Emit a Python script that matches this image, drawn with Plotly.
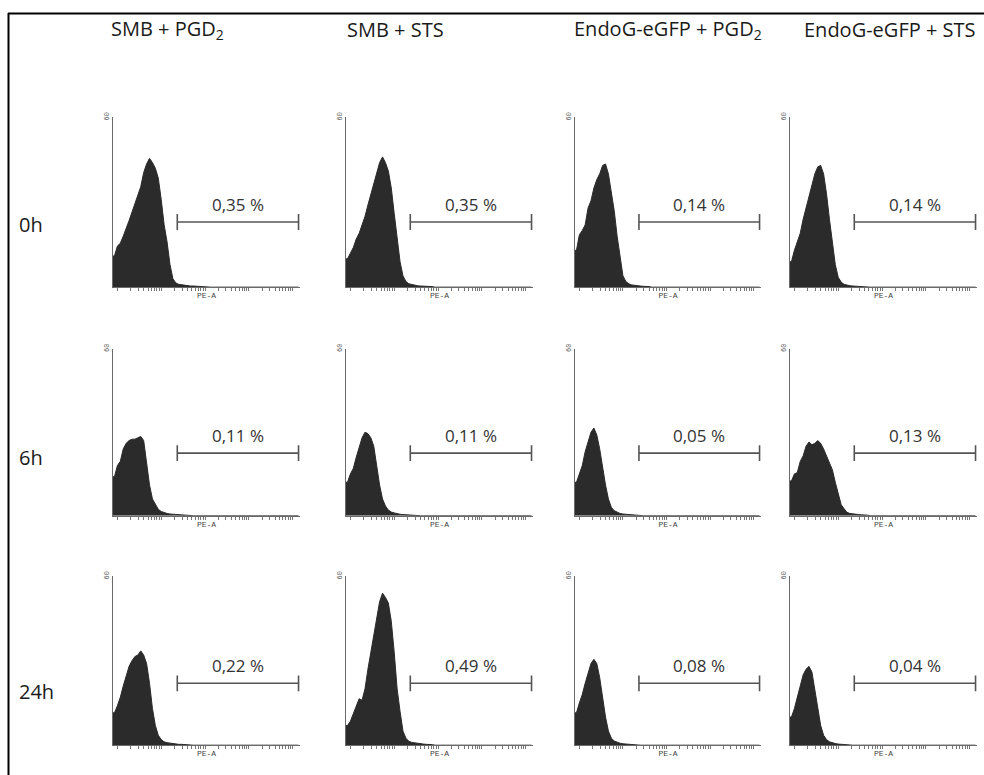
import math
import plotly.graph_objects as go

# ---------------- data ----------------
conditions = ["SMB + PGD<sub>2</sub>", "SMB + STS", "EndoG-eGFP + PGD<sub>2</sub>", "EndoG-eGFP + STS"]
timepoints = ["0h", "6h", "24h"]
percent_labels = [
    ["0,35 %", "0,35 %", "0,14 %", "0,14 %"],
    ["0,11 %", "0,11 %", "0,05 %", "0,13 %"],
    ["0,22 %", "0,49 %", "0,08 %", "0,04 %"],
]
channels = list(range(64))          # PE-A channel (bin index)
gate_range = [22, 63.5]             # PE-A marker gate (channels)
y_max = 60

# counts per channel (remaining channels are 0)
h_0h_smb_pgd2 = [11, 14.5, 15.5, 18, 20.5, 23.5, 26.5, 29.5, 33, 35.5, 40.5, 43.5, 45.5, 44, 42, 38.5,
                 31, 22, 16, 8, 3, 1.5, 1, 0.8, 0.6, 0.5, 0.4, 0.4, 0.3, 0.3, 0.2, 0.2]
h_0h_smb_sts = [10, 12, 14, 17, 19, 22, 25, 29, 33, 37, 41, 44, 46, 44, 41, 35,
                26, 17, 9, 4, 2, 1.2, 0.9, 0.7, 0.5, 0.4, 0.4, 0.3, 0.3, 0.2]
h_0h_endo_pgd2 = [13, 18.5, 20, 22, 28, 30.5, 35, 38, 40, 43, 43.5, 40, 34, 27, 18, 10,
                  4, 2, 1.2, 0.8, 0.6, 0.5, 0.4, 0.3, 0.3, 0.2]
h_0h_endo_sts = [9, 13, 16, 19, 24, 28, 33, 37, 40, 42.5, 43, 40, 33, 24, 15, 8,
                 3.5, 1.8, 1, 0.7, 0.5, 0.4, 0.3, 0.3, 0.2]
h_6h_smb_pgd2 = [14, 18, 19.5, 24, 26, 27, 27.5, 27.5, 28, 28.5, 27, 18, 11, 6, 4, 2.3,
                 1.5, 1, 0.8, 0.6, 0.5, 0.4, 0.4, 0.3, 0.3, 0.2]
h_6h_smb_sts = [12, 15, 17, 21, 25, 28, 30, 29.5, 28, 25, 18, 11, 6, 3.5, 2, 1.3,
                1, 0.7, 0.5, 0.4, 0.3, 0.3, 0.2]
h_6h_endo_pgd2 = [12, 15, 18, 23, 27, 30, 31.5, 29, 24, 17, 11, 6, 3, 1.8, 1.2, 0.8,
                  0.6, 0.5, 0.4, 0.3, 0.2]
h_6h_endo_sts = [12.5, 15, 15.5, 19.5, 21.5, 25, 26.5, 25.5, 26, 27, 26, 24, 21.5, 19.5, 16.5, 12,
                 7.5, 4, 2.5, 1.2, 0.8, 0.6, 0.5, 0.4, 0.3, 0.3, 0.2]
h_24h_smb_pgd2 = [11.5, 14, 17, 21, 25, 28, 30, 31.5, 32, 33.5, 32, 29, 22, 13, 7, 3.5,
                  2, 1.2, 0.9, 0.7, 0.5, 0.4, 0.3, 0.3, 0.2]
h_24h_smb_sts = [7, 8.5, 11, 13.5, 16.5, 16, 20, 27, 33, 40, 46, 51, 54, 52.5, 50.5, 44,
                 33, 20, 12, 5, 2.5, 1.4, 1, 0.8, 0.6, 0.5, 0.4, 0.3, 0.3, 0.2]
h_24h_endo_pgd2 = [11.5, 15, 18, 22, 26, 29, 30.5, 29, 24, 17, 10, 5, 2.5, 1.5, 1, 0.7,
                   0.5, 0.4, 0.3, 0.2]
h_24h_endo_sts = [10, 13, 17, 22, 25, 27, 28, 26, 20, 13, 7, 3.5, 2, 1.2, 0.8, 0.6,
                  0.4, 0.3, 0.2]

histograms = [
    [h_0h_smb_pgd2, h_0h_smb_sts, h_0h_endo_pgd2, h_0h_endo_sts],
    [h_6h_smb_pgd2, h_6h_smb_sts, h_6h_endo_pgd2, h_6h_endo_sts],
    [h_24h_smb_pgd2, h_24h_smb_sts, h_24h_endo_pgd2, h_24h_endo_sts],
]

# ---------------- layout ----------------
W, H = 984, 775
col_px = [(113, 300), (346, 533), (575, 761), (790, 977)]
row_px = [(113, 284), (346, 514), (575, 745)]
gate_y = [23, 22.5, 22]
title_x_px = [109, 345, 572, 802]
row_label_y_px = [223, 457, 693]

# log-style tick marks on PE-A axis (decorative)
tick_pos = []
for d in range(5):
    for m in range(1, 10):
        v = 1.5 + d * 15 + 15 * math.log10(m)
        if v <= 64:
            tick_pos.append(v)

HIST_COLOR = "#2b2b2b"
AXIS_COLOR = "#6a6a6a"
TEXT_FONT = "Open Sans"

fig = go.Figure()
layout = dict(
    width=W, height=H, margin=dict(l=0, r=0, t=0, b=0),
    plot_bgcolor="white", paper_bgcolor="white", showlegend=False,
    annotations=[], shapes=[],
)


def px_x(p):
    return p / W


def px_y(p):
    return 1 - p / H


idx = 0
for r in range(3):
    for c in range(4):
        idx += 1
        xa = "xaxis" if idx == 1 else f"xaxis{idx}"
        ya = "yaxis" if idx == 1 else f"yaxis{idx}"
        xr = "x" if idx == 1 else f"x{idx}"
        yr = "y" if idx == 1 else f"y{idx}"
        counts = histograms[r][c]
        full = list(counts) + [0] * (len(channels) - len(counts))
        fig.add_trace(go.Scatter(
            x=[0] + [ch + 0.5 for ch in channels], y=[full[0]] + full,
            mode="lines", line=dict(color=HIST_COLOR, width=1),
            fill="tozeroy", fillcolor=HIST_COLOR, xaxis=xr, yaxis=yr, hoverinfo="skip",
        ))
        g0, g1 = gate_range
        gy = gate_y[r]
        cap = 2.8
        fig.add_trace(go.Scatter(
            x=[g0, g0, None, g0, g1, None, g1, g1],
            y=[gy - cap, gy + cap, None, gy, gy, None, gy - cap, gy + cap],
            mode="lines", line=dict(color="#555555", width=1.6),
            xaxis=xr, yaxis=yr, hoverinfo="skip",
        ))
        layout["annotations"].append(dict(
            x=(g0 + g1) / 2, y=gy, xref=xr, yref=yr, text=percent_labels[r][c],
            showarrow=False, yanchor="bottom", yshift=4,
            font=dict(family=TEXT_FONT, size=17, color="#333333"),
        ))
        x0, x1 = col_px[c]
        y0, y1 = row_px[r]
        layout[xa] = dict(
            domain=[px_x(x0), px_x(x1)], anchor=yr, range=[0, 64],
            showgrid=False, zeroline=False, showline=True, linecolor=AXIS_COLOR, linewidth=1,
            ticks="outside", ticklen=3, tickwidth=1, tickcolor="#777777",
            tickvals=tick_pos, showticklabels=False,
            title=dict(text="PE-A", standoff=2,
                       font=dict(family="Liberation Mono", size=8, color="#444444")),
        )
        layout[ya] = dict(
            domain=[px_y(y1), px_y(y0)], anchor=xr, range=[0, y_max],
            showgrid=False, zeroline=False, showline=True, linecolor=AXIS_COLOR, linewidth=1,
            ticks="", tickvals=[y_max], ticktext=[str(y_max)], tickangle=-90,
            tickfont=dict(family="Liberation Mono", size=7, color="#555555"),
        )

for c, t in enumerate(conditions):
    layout["annotations"].append(dict(
        x=px_x(title_x_px[c]), y=px_y(25), xref="paper", yref="paper", text=t,
        showarrow=False, xanchor="left", yanchor="middle",
        font=dict(family=TEXT_FONT, size=20, color="#1a1a1a"),
    ))
for r, t in enumerate(timepoints):
    layout["annotations"].append(dict(
        x=px_x(17), y=px_y(row_label_y_px[r] - 2), xref="paper", yref="paper", text=t,
        showarrow=False, xanchor="left", yanchor="middle",
        font=dict(family=TEXT_FONT, size=20, color="#1a1a1a"),
    ))

# outer frame (top and left edges)
layout["shapes"].append(dict(type="line", xref="paper", yref="paper",
                             x0=px_x(8), x1=1, y0=px_y(8.5), y1=px_y(8.5),
                             line=dict(color="black", width=2)))
layout["shapes"].append(dict(type="line", xref="paper", yref="paper",
                             x0=px_x(8.5), x1=px_x(8.5), y0=px_y(8), y1=0,
                             line=dict(color="black", width=2)))

fig.update_layout(**layout)
fig.write_html("out.html", config={"displayModeBar": False},
               post_script="document.body.style.margin='0';")
